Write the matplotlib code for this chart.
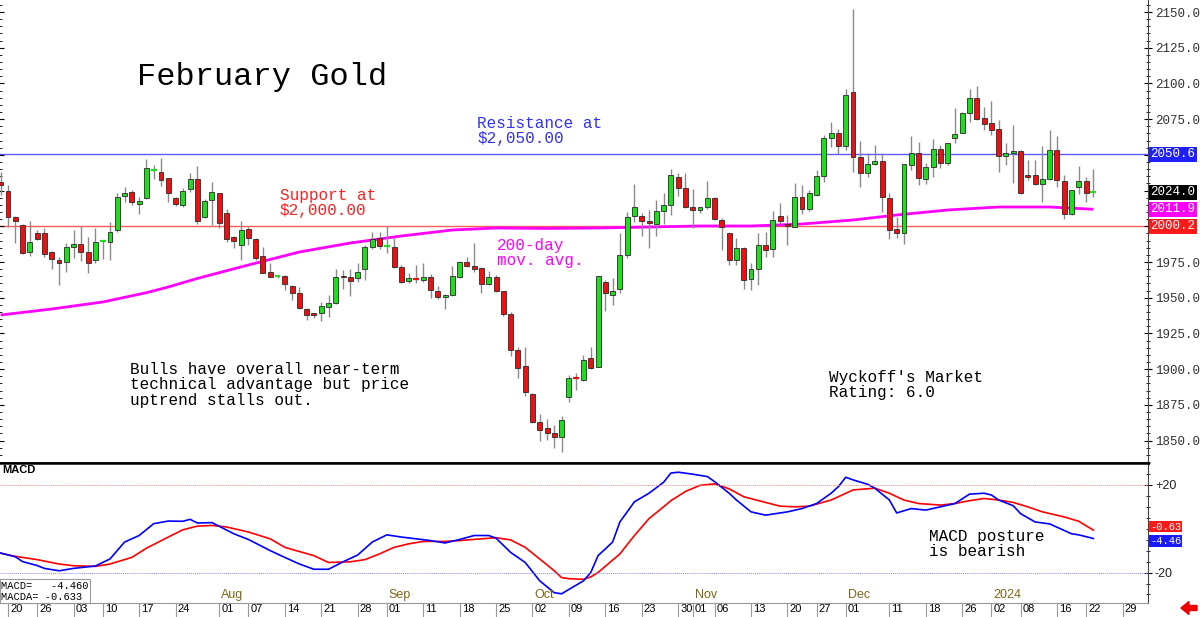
import numpy as np
import matplotlib
matplotlib.use('Agg')
import matplotlib.pyplot as plt
from matplotlib import transforms
from matplotlib.ticker import MultipleLocator, FixedLocator
from matplotlib.patches import FancyArrow

mono = 'Liberation Mono'
sans = 'Liberation Sans'

# trading day index: 0 = Jun 20 2023 ... 149 = Jan 23 2024
day_idx = list(range(-1, 150))
opens = [2031.0,
         2024.9, 2006.7, 2000.9, 1982.2, 1995.1, 1995.5, 1982.0, 1976.4, 1974.8,
         1985.3, 1987.6, 1982.0, 1976.4, 1989.5, 1989.2, 1997.4, 2021.2, 2023.8,
         2015.4, 2019.6, 2039.3, 2037.8, 2033.6, 2019.6, 2014.9, 2025.9, 2032.9, 2006.7, 2018.4,
         2023.1, 2009.1, 1992.3, 1986.9, 1998.1, 1990.9, 1979.2, 1967.8, 1965.0,
         1965.2, 1958.2, 1953.1, 1942.1, 1939.1, 1939.5, 1943.3, 1946.1, 1965.0, 1964.7,
         1963.5, 1969.9, 1985.3, 1992.0, 1986.2,
         1985.7, 1971.7, 1961.7, 1963.3, 1962.4, 1964.3, 1954.7, 1950.7, 1951.9,
         1964.7, 1974.8, 1972.4, 1971.0, 1959.4, 1964.7, 1954.7, 1938.4, 1913.4, 1902.2,
         1882.6, 1863.2, 1858.6, 1855.1, 1852.7, 1880.3, 1893.8, 1892.4, 1907.6, 1901.7,
         1960.8, 1951.9, 1955.9, 1979.9, 2007.4, 2007.4, 2003.9, 2001.6, 2010.9, 2014.9,
         2034.3, 2026.6, 2013.3, 2011.4, 2013.3, 2019.6, 2004.4, 1995.1, 1976.4, 1984.6,
         1962.9, 1969.9, 1986.9, 1983.9, 2007.3, 2001.8, 1999.7, 2020.7, 2011.9,
         2022.2, 2035.2, 2062.0, 2065.1, 2056.2, 2094.2, 2048.7, 2037.3, 2043.4, 2045.7,
         2020.0, 1998.1, 1995.1, 2042.9, 2051.1, 2033.2, 2041.3, 2053.9, 2044.1, 2061.6,
         2065.5, 2079.5, 2089.6, 2076.0, 2072.5, 2067.9, 2049.2, 2051.1, 2052.7, 2035.9,
         2035.9, 2029.6, 2032.9, 2053.4, 2031.7, 2008.6, 2027.3, 2031.9, 2023.8]
highs = [2038.0,
         2028.9, 2007.4, 2001.6, 2003.9, 1997.4, 1998.6, 1982.7, 1978.7, 1988.5,
         1997.4, 2000.2, 1992.3, 1998.6, 1990.4, 2003.2, 2023.5, 2027.3, 2025.4,
         2020.7, 2046.9, 2042.9, 2047.6, 2033.6, 2020.7, 2026.6, 2037.1, 2042.2, 2018.9, 2031.2,
         2023.5, 2011.9, 1993.2, 2003.9, 1999.7, 1991.6, 1985.7, 1974.1, 1965.9,
         1965.9, 1958.6, 1957.7, 1942.6, 1939.5, 1947.2, 1951.9, 1969.9, 1969.4, 1969.9,
         1974.1, 1986.9, 1996.2, 1996.2, 2000.2,
         1991.6, 1972.9, 1967.1, 1972.9, 1974.5, 1966.6, 1958.2, 1952.6, 1972.2,
         1975.9, 1978.3, 1988.5, 1971.7, 1968.9, 1965.9, 1955.0, 1940.2, 1915.3, 1915.7,
         1883.1, 1868.4, 1864.9, 1860.9, 1867.4, 1895.9, 1897.5, 1909.9, 1915.7, 1965.2,
         1962.4, 1963.6, 1995.0, 2010.2, 2029.4, 2009.5, 2011.4, 2018.4, 2023.1, 2039.9,
         2037.1, 2037.5, 2025.9, 2013.7, 2031.9, 2020.7, 2005.6, 1995.5, 1991.6, 1985.3,
         1974.1, 1995.1, 1996.2, 2010.7, 2016.5, 2007.9, 2030.1, 2028.9, 2025.7,
         2039.6, 2064.2, 2073.0, 2068.2, 2096.0, 2152.4, 2059.7, 2051.3, 2056.9, 2051.1,
         2023.5, 2006.7, 2043.4, 2063.2, 2059.2, 2044.5, 2060.9, 2056.9, 2058.1, 2082.6,
         2080.2, 2096.1, 2098.2, 2083.7, 2087.9, 2074.4, 2058.5, 2070.9, 2053.4, 2046.4,
         2046.4, 2056.2, 2067.4, 2063.2, 2035.9, 2025.4, 2042.2, 2034.7, 2039.9]
lows = [2022.0,
        1999.7, 1988.1, 1980.6, 1979.2, 1990.4, 1978.7, 1969.9, 1958.9, 1968.2,
        1977.6, 1976.0, 1967.1, 1974.5, 1976.9, 1976.4, 1996.2, 2017.2, 2014.9,
        2008.6, 2018.9, 2032.9, 2028.2, 2017.2, 2014.2, 2013.7, 2024.2, 2001.6, 2005.6, 2000.9,
        1999.0, 1989.2, 1984.6, 1976.4, 1986.9, 1976.4, 1967.0, 1964.3, 1963.6,
        1955.4, 1948.4, 1942.1, 1934.4, 1935.6, 1933.9, 1936.7, 1945.6, 1955.9, 1951.4,
        1961.2, 1962.4, 1983.9, 1983.9, 1981.5,
        1971.0, 1960.5, 1960.5, 1960.5, 1961.2, 1949.6, 1948.9, 1941.9, 1951.2,
        1964.0, 1971.3, 1968.2, 1953.1, 1958.9, 1954.2, 1937.4, 1909.4, 1893.6, 1881.4,
        1862.1, 1849.9, 1850.4, 1844.6, 1841.8, 1876.8, 1885.4, 1891.7, 1899.9, 1901.3,
        1940.7, 1944.9, 1953.0, 1977.6, 2003.2, 1993.2, 1984.6, 1993.2, 2001.6, 2007.9,
        2021.2, 2012.6, 1998.6, 2009.1, 2011.9, 2004.4, 1983.4, 1972.9, 1972.9, 1955.9,
        1955.4, 1958.9, 1978.7, 1978.7, 2001.6, 1986.9, 1999.2, 2008.8, 2010.5,
        2021.5, 2031.2, 2055.5, 2050.9, 2053.2, 2037.8, 2027.3, 2034.4, 2043.0, 2010.2,
        1990.9, 1991.6, 1987.6, 2039.4, 2028.9, 2029.6, 2034.7, 2040.6, 2042.9, 2058.1,
        2065.5, 2073.2, 2074.4, 2067.4, 2063.9, 2038.2, 2042.9, 2030.5, 2022.6, 2032.4,
        2028.9, 2017.2, 2032.4, 2027.3, 2004.9, 2007.9, 2022.6, 2017.2, 2020.7]
closes = [2029.0,
          2006.7, 2003.7, 1981.1, 1988.8, 1990.9, 1980.4, 1977.3, 1974.1, 1985.7,
          1987.6, 1981.8, 1974.5, 1988.8, 1989.8, 1996.2, 2020.3, 2023.5, 2017.2,
          2017.7, 2040.6, 2039.6, 2032.4, 2023.1, 2015.6, 2024.9, 2032.9, 2003.9, 2017.9, 2024.2,
          2002.1, 1991.1, 1989.9, 1997.4, 1991.6, 1977.6, 1967.5, 1964.7, 1965.3,
          1959.4, 1953.1, 1942.6, 1937.9, 1937.9, 1944.2, 1946.5, 1964.7, 1964.2, 1961.9,
          1968.2, 1985.7, 1990.9, 1986.2, 1986.5,
          1971.5, 1961.2, 1963.5, 1963.0, 1964.7, 1955.4, 1950.7, 1951.9, 1965.4,
          1975.2, 1972.2, 1970.1, 1959.4, 1964.3, 1954.9, 1938.4, 1913.4, 1901.0, 1883.8,
          1862.8, 1857.4, 1855.1, 1852.7, 1864.4, 1894.0, 1893.5, 1906.4, 1901.0, 1965.0,
          1953.1, 1954.7, 1979.9, 2006.3, 2013.7, 2003.9, 2002.1, 2010.9, 2014.9, 2035.9,
          2026.6, 2013.3, 2011.4, 2013.7, 2020.0, 2004.9, 1999.3, 1976.4, 1984.6, 1962.4,
          1969.9, 1986.9, 1983.4, 2004.4, 2003.5, 1999.9, 2020.7, 2011.9, 2023.5,
          2035.2, 2062.0, 2065.3, 2056.2, 2091.9, 2048.3, 2037.5, 2043.4, 2045.7, 2020.7,
          1997.4, 1995.1, 2043.4, 2051.1, 2033.6, 2041.3, 2053.9, 2044.1, 2058.1, 2064.6,
          2079.5, 2089.6, 2074.9, 2071.4, 2067.4, 2049.2, 2051.1, 2052.7, 2023.1, 2034.7,
          2029.6, 2032.9, 2053.4, 2032.4, 2008.6, 2025.4, 2031.7, 2023.1, 2024.0]

# 200-day moving average
ma_idx = [-1, 6, 13, 19, 22, 26, 33, 40, 47, 54, 61, 67, 74, 81, 88, 95, 102,
          109, 116, 122, 129, 136, 143, 149]
ma_val = [1937.9, 1942.1, 1947.0, 1953.5, 1957.5, 1963.5, 1972.9, 1982.0, 1988.3,
          1993.2, 1997.4, 1998.8, 1998.5, 1998.8, 1999.5, 2000.2, 2000.2, 2001.6,
          2004.4, 2007.9, 2011.4, 2013.5, 2013.5, 2011.9]

# MACD (blue) and MACDA signal (red)
macd_idx = [-1, 1, 2, 4, 5, 7, 9, 12, 14, 16, 18, 20, 22, 24, 25, 26, 28, 31, 33, 36,
            38, 40, 42, 44, 46, 48, 50, 52, 54, 56, 58, 60, 62, 64, 66, 67, 69, 71, 73, 75,
            76, 77, 79, 80, 81, 83, 84, 86, 88, 90, 91, 92, 94, 96, 97, 99, 100, 102, 104, 106,
            107, 109, 111, 113, 114, 115, 116, 118, 119, 121, 122, 124, 126, 128, 130, 132,
            134, 135, 136, 138, 139, 141, 143, 146, 147, 149]
macd_val = [-11.1, -12.8, -15.0, -16.8, -18.1, -19.2, -18.1, -17.0, -13.8, -6.1,
            -3.1, 2.3, 3.5, 3.4, 4.3, 2.6, 2.8, -2.3, -4.9, -10.0,
            -13.1, -16.1, -18.5, -18.5, -15.1, -12.0, -6.1, -2.8, -3.8, -4.6,
            -5.4, -6.5, -4.9, -3.1, -3.1, -4.3, -10.8, -15.4, -23.8, -29.2,
            -29.7, -27.7, -23.8, -20.0, -12.3, -6.1, 3.1, 12.3, 16.2, 21.2,
            25.4, 25.8, 24.9, 23.8, 21.5, 16.2, 13.1, 7.7, 6.2, 7.2,
            7.7, 9.2, 11.5, 16.2, 19.2, 23.5, 22.3, 20.3, 18.5, 13.1,
            7.2, 9.2, 8.5, 10.0, 11.5, 15.8, 16.2, 15.4, 13.1, 10.5,
            6.9, 3.1, 2.2, -2.3, -2.8, -4.46]
sig_idx = [-1, 1, 4, 7, 9, 12, 14, 17, 19, 22, 24, 26, 28, 30, 33, 36, 38, 42, 44, 47,
           49, 51, 53, 55, 57, 60, 62, 65, 67, 69, 71, 73, 75, 76, 77, 79, 80, 81, 84, 86,
           88, 90, 91, 93, 95, 97, 99, 101, 104, 106, 108, 110, 113, 114, 116, 119, 121,
           123, 125, 128, 130, 132, 134, 136, 138, 140, 142, 145, 147, 149]
sig_val = [-11.2, -12.6, -14.1, -16.1, -16.9, -17.2, -16.1, -13.1, -8.9, -3.8,
           -0.5, 1.2, 1.5, 0.8, -1.5, -4.6, -8.5, -12.3, -15.4, -15.1,
           -14.1, -11.5, -8.5, -6.9, -5.8, -5.8, -5.4, -4.6, -4.1, -5.1,
           -8.5, -13.8, -19.2, -22.3, -22.8, -23.1, -22.0, -20.0, -11.5, -3.1,
           4.6, 10.0, 12.8, 17.0, 19.8, 20.5, 18.2, 14.6, 12.0, 10.3,
           10.0, 10.3, 13.1, 14.6, 17.7, 18.5, 16.2, 13.1, 11.5, 10.8,
           11.5, 12.8, 13.8, 13.1, 12.0, 10.0, 7.7, 5.4, 3.4, -0.633]
macd_last = -4.460
macda_last = -0.633

resistance = 2050.6
support = 2000.2

price_ticks = list(range(1850, 2151, 25))
hidden_ticks = [2000, 2025, 2050]   # covered by the value tags

date_tick_idx = [0, 4, 9, 13, 18, 23, 29, 33, 38, 43, 48, 52, 57, 62, 67, 72, 77, 82,
                 87, 92, 94, 97, 102, 107, 111, 115, 121, 126, 131, 135, 139, 144, 148, 153]
date_tick_lbl = ['20', '26', '03', '10', '17', '24', '01', '07', '14', '21', '28', '01',
                 '11', '18', '25', '02', '09', '16', '23', '30', '01', '06', '13', '20',
                 '27', '01', '11', '18', '26', '02', '08', '16', '22', '29']
month_idx = [9, 29, 52, 72, 94, 115, 135]
month_lbl = ['Jul', 'Aug', 'Sep', 'Oct', 'Nov', 'Dec', '2024']

W, H = 1200.0, 617.0
fig = plt.figure(figsize=(12, 6.17), dpi=100)
ax1 = fig.add_axes([0, 154 / H, 1148 / W, 463 / H])
ax2 = fig.add_axes([0, 14 / H, 1148 / W, 140 / H])
for ax in (ax1, ax2):
    ax.set_xlim(-1.1, 156.5)
    ax.spines['left'].set_visible(False)
    ax.spines['right'].set_color('#444444')
    ax.spines['right'].set_linewidth(0.8)
ax1.spines['top'].set_visible(False)
ax1.spines['bottom'].set_linewidth(1.8)
ax2.spines['top'].set_linewidth(1.8)
ax2.spines['bottom'].set_color('#999999')
ax1.set_ylim(1834.3, 2158.4)
ax2.set_ylim(-33.9, 30.0)

# candles
idx = np.array(day_idx)
o = np.array(opens)
h = np.array(highs)
l = np.array(lows)
c = np.array(closes)
col = np.where(c >= o, '#1fdc1f', '#ee1010')
doji = np.abs(c - o) < 0.7
ax1.vlines(idx, l, h, color='#8a8a8a', lw=1.0, zorder=3)
b = ~doji
ax1.bar(idx[b], np.abs(c - o)[b], bottom=np.minimum(o, c)[b], width=0.68,
        color=col[b], edgecolor='#2a2a2a', linewidth=0.6, zorder=4)
ax1.hlines(c[doji], idx[doji] - 0.4, idx[doji] + 0.4, colors=col[doji], lw=1.6, zorder=4)

ax1.plot(ma_idx, ma_val, color='#ff00ff', lw=2.0, zorder=2, solid_capstyle='butt')
ax1.axhline(resistance, color='#5a5aff', lw=1.0, zorder=1)
ax1.axhline(support, color='#ff5a5a', lw=1.0, zorder=1)

# price axis
ax1.yaxis.set_ticks_position('both')
ax1.yaxis.set_major_locator(FixedLocator(price_ticks))
ax1.set_yticklabels(['' if v in hidden_ticks else '%.1f' % v for v in price_ticks], family=mono)
ax1.yaxis.set_minor_locator(MultipleLocator(5))
ax1.tick_params(axis='y', which='major', direction='inout', length=6, width=0.8,
                labelleft=False, labelright=True, labelsize=9, labelcolor='#333333', pad=2)
ax1.tick_params(axis='y', which='minor', direction='inout', length=3, width=0.6)
ax1.tick_params(axis='x', which='both', bottom=False, labelbottom=False)

# macd panel
ax2.plot(sig_idx, sig_val, color='#ff0000', lw=1.2)
ax2.plot(macd_idx, macd_val, color='#0000ff', lw=1.2)
ax2.axhline(20, color='#ff8c8c', lw=0.7, ls=(0, (1, 1)))
ax2.axhline(-20, color='#8c8cff', lw=0.7, ls=(0, (1, 1)))
ax2.yaxis.tick_right()
ax2.set_yticks([20, -20])
ax2.set_yticklabels(['+20', '-20'], family=sans)
ax2.yaxis.set_minor_locator(MultipleLocator(5))
ax2.tick_params(axis='y', which='major', direction='inout', length=6, width=0.8,
                labelsize=9, labelcolor='#222222', pad=2)
ax2.tick_params(axis='y', which='minor', direction='inout', length=3, width=0.6)

ax2.set_xticks(date_tick_idx)
ax2.set_xticklabels(date_tick_lbl, family=sans, ha='left')
ax2.tick_params(axis='x', direction='out', length=10, width=0.8, color='#9a9a9a',
                labelsize=8, pad=-9)
shift = transforms.ScaledTranslation(2 / 100, 0, fig.dpi_scale_trans)
for lab in ax2.get_xticklabels():
    lab.set_transform(lab.get_transform() + shift)

blend = transforms.blended_transform_factory(ax2.transData, ax2.transAxes) + shift
for i, m in zip(month_idx, month_lbl):
    ax2.text(i, 0.012, m, transform=blend, ha='left', va='bottom', fontsize=9,
             family=sans, color='#7d6416')

ax2.text(0.002, 0.985, 'MACD', transform=ax2.transAxes, ha='left', va='top',
         fontsize=8, fontweight='bold', family=sans)
ax2.text(0.001, 0.01, 'MACD=   %.3f\nMACDA= %.3f' % (macd_last, macda_last),
         transform=ax2.transAxes, ha='left', va='bottom', fontsize=7.5, family=mono,
         linespacing=1.1, zorder=10,
         bbox=dict(boxstyle='square,pad=0.15', fc='white', ec='#999999', lw=0.8))


def tag(ax, y, txt, fc, dy=0.0, size=9, pad=0.12):
    tr = transforms.blended_transform_factory(ax.transAxes, ax.transData)
    tr = tr + transforms.ScaledTranslation(0, dy / 100, fig.dpi_scale_trans)
    ax.text(1.0 + 2 / 1148, y, txt, transform=tr, ha='left', va='center', color='white',
            fontsize=size, family=mono, zorder=6, clip_on=False,
            bbox=dict(boxstyle='square,pad=%.2f' % pad, fc=fc, ec='none'))


tag(ax1, resistance, '%.1f' % resistance, '#2020ff')
tag(ax1, closes[-1], '%.1f' % closes[-1], '#000000')
tag(ax1, ma_val[-1], '%.1f' % ma_val[-1], '#ff00ff')
tag(ax1, support, '%.1f' % support, '#ff1a1a')
tag(ax2, macda_last, '%.2f' % macda_last, '#ff1a1a', dy=3.5, size=7.5, pad=0.08)
tag(ax2, macd_last, '%.2f' % macd_last, '#1a1aff', dy=-2.5, size=7.5, pad=0.08)


def ftext(x, y, s, **kw):
    fig.text(x / W, 1 - y / H, s, ha='left', va='center', family=mono,
             linespacing=1.05, **kw)


ftext(137, 77, 'February Gold', fontsize=23, color='black')
ftext(477, 131, 'Resistance at\n$2,050.00', fontsize=11.5, color='#3030ff')
ftext(280, 203, 'Support at\n$2,000.00', fontsize=11.5, color='#ff2020')
ftext(497, 253, '200-day\nmov. avg.', fontsize=11.5, color='#ff00ff')
ftext(130, 385, 'Bulls have overall near-term\ntechnical advantage but price\nuptrend stalls out.',
      fontsize=11.5, color='black')
ftext(829, 385, "Wyckoff's Market\nRating: 6.0", fontsize=11.5, color='black')
ftext(929, 544, 'MACD posture\nis bearish', fontsize=11.5, color='black')

fig.add_artist(FancyArrow(11.97, 0.09, -0.16, 0, width=0.05, head_width=0.13,
                          head_length=0.08, length_includes_head=True, color='#ee0000',
                          transform=fig.dpi_scale_trans))

fig.savefig('out.png', dpi=100)
